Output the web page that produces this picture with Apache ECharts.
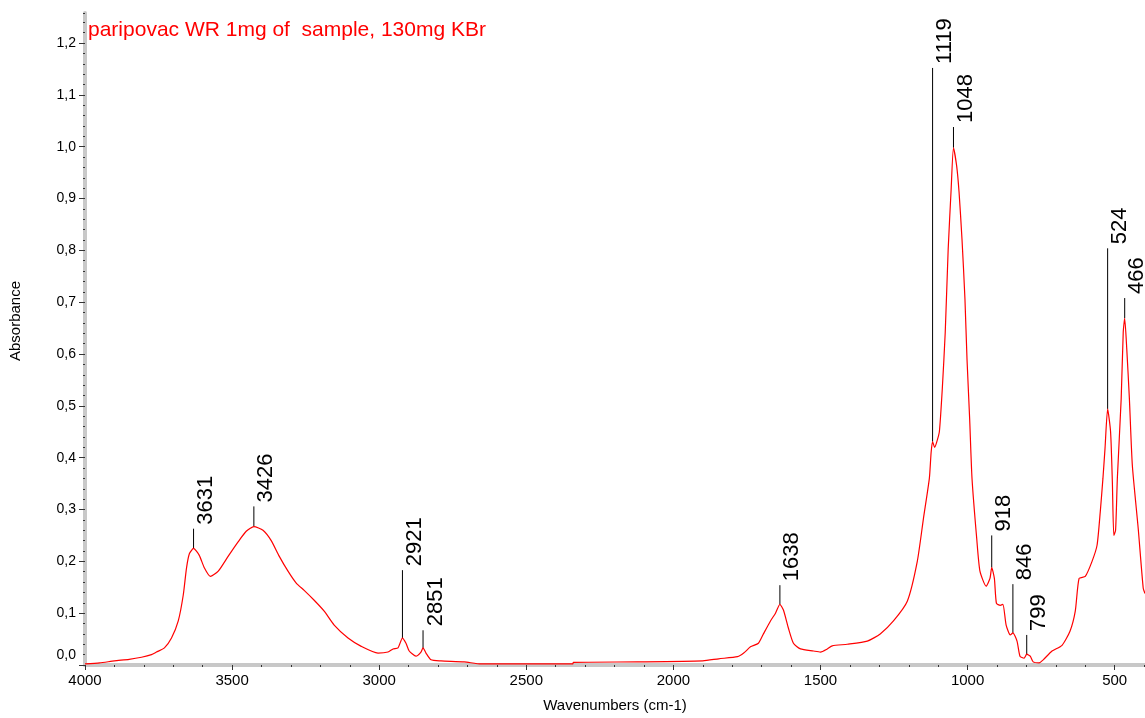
<!DOCTYPE html>
<html>
<head>
<meta charset="utf-8">
<script src="https://cdn.jsdelivr.net/npm/echarts@6/dist/echarts.min.js"></script>
<style>
html,body{margin:0;padding:0;background:#fff;}
#chart{width:1145px;height:718px;}
</style>
</head>
<body>
<div id="chart"></div>
<script>
// Spectrum (wavenumber cm-1, absorbance)
const wavenumbers = [4000,3950,3900,3850,3808,3774,3757,3730,3706,3683,3666,3655,3645,3631,3612,3594,3574,3547,3513,3479,3452,3426,3395,3367,3340,3310,3282,3255,3221,3187,3153,3106,3061,3004,2970,2953,2936,2921,2909,2898,2875,2858,2851,2841,2824,2790,2711,2654,2342,2340,2121,1900,1846,1782,1761,1738,1711,1694,1670,1653,1638,1626,1609,1592,1568,1524,1500,1477,1460,1409,1341,1297,1252,1205,1171,1150,1130,1124,1119,1112,1105,1096,1086,1076,1066,1056,1048,1037,1029,1019,1009,1002,993,985,969,958,937,924,918,909,902,889,880,869,855,846,832,822,808,799,787,777,757,743,713,679,652,634,621,600,577,560,549,540,533,524,514,508,503,497,491,478,471,466,459,450,440,420,403,397];
const absorbance = [0.002,0.004,0.008,0.011,0.015,0.020,0.025,0.033,0.052,0.085,0.135,0.187,0.215,0.225,0.212,0.187,0.171,0.181,0.210,0.238,0.258,0.267,0.260,0.240,0.210,0.181,0.158,0.144,0.125,0.104,0.077,0.052,0.036,0.023,0.025,0.031,0.033,0.052,0.042,0.027,0.017,0.025,0.033,0.023,0.010,0.008,0.006,0.002,0.002,0.005,0.006,0.008,0.012,0.016,0.023,0.035,0.042,0.060,0.085,0.100,0.117,0.106,0.071,0.042,0.031,0.027,0.025,0.031,0.037,0.040,0.046,0.060,0.085,0.123,0.200,0.283,0.360,0.410,0.431,0.420,0.430,0.450,0.533,0.642,0.802,0.917,0.998,0.962,0.912,0.821,0.706,0.590,0.475,0.360,0.244,0.181,0.152,0.167,0.188,0.167,0.119,0.115,0.117,0.077,0.058,0.062,0.046,0.017,0.013,0.021,0.017,0.006,0.004,0.010,0.027,0.038,0.065,0.104,0.167,0.171,0.200,0.231,0.296,0.360,0.417,0.494,0.450,0.354,0.250,0.260,0.360,0.513,0.642,0.669,0.610,0.513,0.385,0.263,0.148,0.138];

// Peak annotations
const peakWn = [3631,3426,2921,2851,1638,1119,1048,918,846,799,524,466];
const peakAbs = [0.225,0.267,0.052,0.033,0.117,0.431,0.998,0.188,0.062,0.019,0.494,0.669];
const peakLabelTop = [0.263,0.306,0.183,0.067,0.154,1.152,1.038,0.250,0.156,0.058,0.804,0.708];

// Axis ticks
const xMajorTicks = [500,1000,1500,2000,2500,3000,3500,4000];
const yMajorTicks = [0,0.1,0.2,0.3,0.4,0.5,0.6,0.7,0.8,0.9,1.0,1.1,1.2];
const xMinorTicks = [];
for (let v = 400; v <= 4000; v += 100) xMinorTicks.push(v);

const titleText = 'paripovac WR 1mg of  sample, 130mg KBr';
const xName = 'Wavenumbers (cm-1)';
const yName = 'Absorbance';

const FONT = 'Liberation Sans';
const spectrum = wavenumbers.map((w, i) => [w, absorbance[i]]);
const peaks = peakWn.map((w, i) => [w, peakAbs[i], peakLabelTop[i]]);

const chart = echarts.init(document.getElementById('chart'), null, {renderer: 'canvas'});
chart.setOption({
  animation: false,
  backgroundColor: '#ffffff',
  title: {
    text: titleText, left: 88, top: 20, padding: 0,
    textStyle: {color: '#ff0000', fontSize: 21, fontWeight: 'normal', fontFamily: FONT}
  },
  grid: {left: 84, right: 0, top: 13, bottom: 51, containLabel: false},
  xAxis: [{
    type: 'value', min: 397, max: 4000, inverse: true,
    name: xName, nameLocation: 'middle', nameGap: 33,
    nameTextStyle: {fontSize: 15, color: '#000', fontFamily: FONT},
    axisLine: {show: true, onZero: false, lineStyle: {color: '#c8c8c8', width: 4}},
    axisTick: {show: true, customValues: xMinorTicks, length: 2, lineStyle: {color: '#333', width: 1}},
    axisLabel: {customValues: xMajorTicks, fontSize: 15, color: '#000', fontFamily: FONT, margin: 8,
      formatter: v => String(v)},
    splitLine: {show: false}
  }, {
    type: 'value', min: 397, max: 4000, inverse: true, position: 'bottom',
    axisLine: {show: false},
    axisTick: {show: true, customValues: xMajorTicks, length: 5, lineStyle: {color: '#333', width: 1}},
    axisLabel: {show: false}, splitLine: {show: false}
  }],
  yAxis: [{
    type: 'value', min: 0, max: 1.258, interval: 0.02,
    name: yName, nameLocation: 'middle', nameGap: 62, nameRotate: 90,
    nameTextStyle: {fontSize: 15, color: '#000', fontFamily: FONT, padding: [0, 0, 0, 36]},
    axisLine: {show: true, onZero: false, lineStyle: {color: '#c8c8c8', width: 4}},
    axisTick: {show: true, length: 2, lineStyle: {color: '#333', width: 1}},
    axisLabel: {
      customValues: yMajorTicks, fontSize: 14, color: '#000', fontFamily: FONT, margin: 9,
      formatter: v => v === 0 ? '{z|0,0}' : v.toFixed(1).replace('.', ','),
      rich: {z: {fontSize: 14, color: '#000', fontFamily: FONT, padding: [0, 0, 20, 0]}}
    },
    splitLine: {show: false}
  }, {
    type: 'value', min: 0, max: 1.258, position: 'left',
    axisLine: {show: false},
    axisTick: {show: true, customValues: yMajorTicks, length: 6, lineStyle: {color: '#333', width: 1}},
    axisLabel: {show: false}, splitLine: {show: false}
  }],
  series: [{
    type: 'line', data: spectrum, xAxisIndex: 0, yAxisIndex: 0,
    symbol: 'none', smooth: 0.2,
    lineStyle: {color: '#ff0000', width: 1.2}
  }, {
    type: 'custom', data: peaks, xAxisIndex: 0, yAxisIndex: 0, clip: false,
    encode: {x: 0, y: [1, 2]},
    renderItem: function (params, api) {
      const w = api.value(0);
      const p = api.coord([w, api.value(1)]);
      const t = api.coord([w, api.value(2)]);
      return {
        type: 'group',
        children: [{
          type: 'line',
          shape: {x1: p[0], y1: p[1], x2: t[0], y2: t[1]},
          style: {stroke: '#000', lineWidth: 1}
        }, {
          type: 'text', x: t[0] + 12.5, y: t[1] - 4, rotation: Math.PI / 2,
          style: {text: String(w), fontSize: 22, fontFamily: FONT, fill: '#000', align: 'left', verticalAlign: 'middle'}
        }]
      };
    }
  }]
});
</script>
</body>
</html>
